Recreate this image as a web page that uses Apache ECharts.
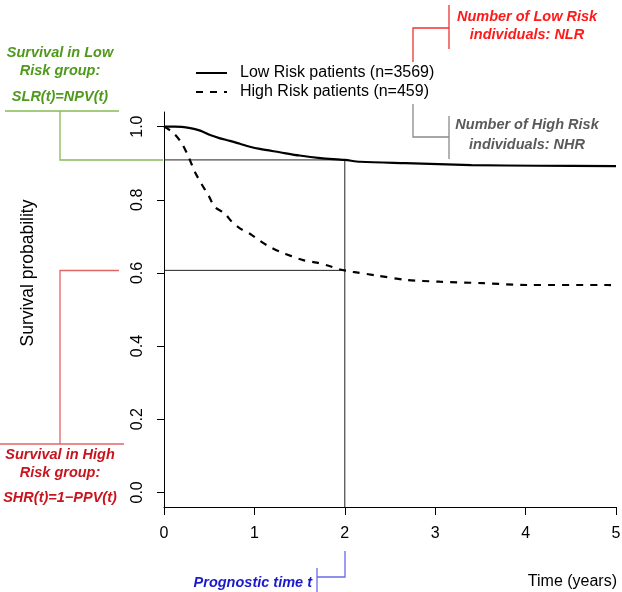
<!DOCTYPE html>
<html>
<head>
<meta charset="utf-8">
<script src="https://cdn.jsdelivr.net/npm/echarts@6/dist/echarts.min.js"></script>
<style>html,body{margin:0;padding:0;background:#fff}#c{width:622px;height:592px}</style>
</head>
<body>
<div id="c"></div>
<script>
// ---- data ----
var lowTime  = [0, 0.12, 0.29, 0.40, 0.51, 0.62, 0.73, 0.84, 0.95, 1.06, 1.28, 1.50, 1.73, 2.0, 2.17, 2.67, 3.4, 4.14, 5.0];
var lowSurv  = [1.0, 1.0, 0.996, 0.989, 0.977, 0.968, 0.961, 0.953, 0.945, 0.939, 0.930, 0.921, 0.914, 0.909, 0.904, 0.900, 0.895, 0.893, 0.892];
var highTime = [0, 0.10, 0.195, 0.27, 0.34, 0.42, 0.49, 0.56, 0.67, 0.75, 0.84, 0.95, 1.06, 1.15, 1.28, 1.41, 1.54, 1.69, 1.83, 1.94, 2.09, 2.35, 2.68, 3.05, 3.53, 4.01, 4.9, 5.0];
var highSurv = [1.0, 0.984, 0.955, 0.918, 0.877, 0.841, 0.813, 0.781, 0.763, 0.740, 0.722, 0.707, 0.688, 0.674, 0.658, 0.646, 0.635, 0.628, 0.619, 0.610, 0.603, 0.593, 0.581, 0.576, 0.572, 0.567, 0.567, 0.566];
var seriesNames = ['Low Risk patients (n=3569)', 'High Risk patients (n=459)'];
var yTicks = [0, 0.2, 0.4, 0.6, 0.8, 1.0];
var xTicks = [0, 1, 2, 3, 4, 5];
var progTime = 2;
var surviveLowAtT = 0.909;
var surviveHighAtT = 0.607;

function pairs(xs, ys){ return xs.map(function(x,i){return [x, ys[i]];}); }

var FONT = '"Liberation Sans", Arial, Helvetica, sans-serif';
var ANN = 'italic bold 14.5px ' + FONT;

function txt(t, x, y, color, align){
  return {type:'text', x:x, y:y, silent:true, style:{text:t, font:ANN, fill:color, align:align||'center', verticalAlign:'middle'}};
}
function pl(points, color){
  return {type:'polyline', silent:true, shape:{points:points}, style:{stroke:color, lineWidth:1.3, fill:null}};
}

var chart = echarts.init(document.getElementById('c'), null, {renderer:'canvas'});
chart.setOption({
  animation:false,
  backgroundColor:'#fff',
  grid:{left:164, right:6, top:112, bottom:85, containLabel:false, outerBoundsMode:'none'},
  xAxis:{
    type:'value', min:0, max:5, interval:1,
    axisLine:{show:true, onZero:false, lineStyle:{color:'#000', width:1}},
    axisTick:{show:true, length:8, lineStyle:{color:'#000', width:1}, customValues:xTicks},
    axisLabel:{color:'#000', fontSize:16, fontFamily:FONT, margin:19, customValues:xTicks, formatter:function(v){return String(v);}},
    splitLine:{show:false}
  },
  yAxis:{
    type:'value', min:-0.04, max:1.04,
    axisLine:{show:true, onZero:false, lineStyle:{color:'#000', width:1}},
    axisTick:{show:true, length:7, lineStyle:{color:'#000', width:1}, customValues:yTicks},
    axisLabel:{color:'#000', fontSize:16, fontFamily:FONT, rotate:90, margin:18, customValues:yTicks, formatter:function(v){return v.toFixed(1);}},
    splitLine:{show:false}
  },
  legend:{
    orient:'vertical', left:195, top:65, padding:0, itemWidth:31, itemHeight:12, itemGap:3,
    data:seriesNames,
    itemStyle:{opacity:0, borderWidth:0, color:'rgba(0,0,0,0)'},
    textStyle:{color:'#000', fontSize:16, fontFamily:FONT, padding:[0,0,0,8]}
  },
  series:[
    {name:'guide1', type:'line', data:[[0,surviveLowAtT],[progTime,surviveLowAtT],[progTime,-0.04]], symbol:'none', silent:true, lineStyle:{color:'#222', width:1}, z:1},
    {name:'guide2', type:'line', data:[[0,surviveHighAtT],[progTime,surviveHighAtT]], symbol:'none', silent:true, lineStyle:{color:'#222', width:1}, z:1},
    {name:seriesNames[0], type:'line', data:pairs(lowTime, lowSurv), symbol:'none', smooth:0.3, lineStyle:{color:'#000', width:2.2}, itemStyle:{color:'#000'}, z:3},
    {name:seriesNames[1], type:'line', data:pairs(highTime, highSurv), symbol:'none', smooth:0.3, lineStyle:{color:'#000', width:2.2, type:[7,7]}, itemStyle:{color:'#000'}, z:3}
  ],
  graphic:[
    {type:'text', x:28, y:273, rotation:Math.PI/2, silent:true, style:{text:'Survival probability', font:'17.5px '+FONT, fill:'#000', align:'center', verticalAlign:'middle'}},
    {type:'text', x:617, y:582, silent:true, style:{text:'Time (years)', font:'16px '+FONT, fill:'#000', align:'right', verticalAlign:'middle'}},
    // green (low risk survival)
    txt('Survival in Low', 60, 53, '#4f9a1c'),
    txt('Risk group:', 60, 71, '#4f9a1c'),
    txt('SLR(t)=NPV(t)', 60, 97, '#4f9a1c'),
    pl([[5,111],[119,111]], '#86bb55'),
    pl([[60,111],[60,160],[163,160]], '#86bb55'),
    // red (high risk survival)
    txt('Survival in High', 60, 455, '#c8141e'),
    txt('Risk group:', 60, 473, '#c8141e'),
    txt('SHR(t)=1\u2212PPV(t)', 60, 498, '#c8141e'),
    pl([[119,270.5],[60,270.5],[60,444]], '#e06666'),
    pl([[0,444],[124,444]], '#e06666'),
    // top right red
    txt('Number of Low Risk', 527, 17, '#ff1a1a'),
    txt('individuals: NLR', 527, 35, '#ff1a1a'),
    pl([[449,5],[449,49]], '#ee3333'),
    pl([[449,28],[413,28],[413,62]], '#ee3333'),
    // top right gray
    txt('Number of High Risk', 527, 125, '#5a5a5a'),
    txt('individuals: NHR', 527, 145, '#5a5a5a'),
    pl([[413,104],[413,137],[449,137]], '#8a8a8a'),
    pl([[449,116],[449,159]], '#8a8a8a'),
    // blue prognostic time
    txt('Prognostic time t', 312, 583, '#1a1acc', 'right'),
    pl([[345,551],[345,577],[317,577]], '#6a6ae8'),
    pl([[317,568],[317,592]], '#6a6ae8')
  ]
});
</script>
</body>
</html>
